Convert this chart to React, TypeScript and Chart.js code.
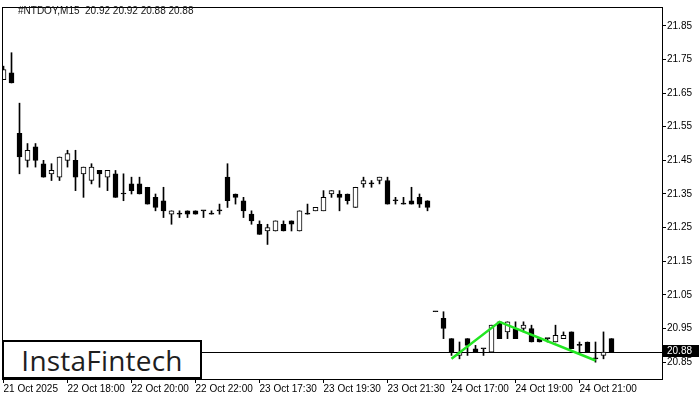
import React, { useEffect, useRef } from "react";
import { Chart, registerables } from "chart.js";

Chart.register(...registerables);

const symbolTitle = "#NTDOY,M15";

const opens = [
  21.69, 21.71, 21.53, 21.45, 21.49, 21.44, 21.41, 21.40, 21.45, 21.45,
  21.41, 21.39, 21.42, 21.40, 21.41, 21.35, 21.38, 21.38, 21.37, 21.34,
  21.33, 21.29, 21.29, 21.30, 21.30, 21.30, 21.29, 21.30, 21.40, 21.35,
  21.33, 21.29, 21.26, 21.24, 21.24, 21.26, 21.27, 21.24, 21.29, 21.30,
  21.30, 21.35, 21.35, 21.35, 21.31, 21.38, 21.38, 21.39, 21.39, 21.33,
  21.32, 21.33, 21.34, 21.33, 21.00, 20.98, 20.92, 20.87, 20.92, 20.89,
  20.89, 20.88, 20.97, 20.94, 20.95, 20.95, 20.95, 20.92, 20.92, 20.91,
  20.92, 20.94, 20.90, 20.91, 20.86, 20.87, 20.92,
];
const highs = [
  21.73, 21.77, 21.62, 21.50, 21.50, 21.45, 21.44, 21.46, 21.48, 21.48,
  21.43, 21.44, 21.42, 21.42, 21.42, 21.41, 21.40, 21.40, 21.37, 21.35,
  21.37, 21.30, 21.30, 21.30, 21.30, 21.30, 21.30, 21.32, 21.44, 21.35,
  21.34, 21.30, 21.27, 21.26, 21.27, 21.27, 21.27, 21.30, 21.32, 21.31,
  21.36, 21.36, 21.36, 21.35, 21.37, 21.40, 21.39, 21.40, 21.40, 21.34,
  21.34, 21.37, 21.35, 21.33, 21.00, 21.00, 20.92, 20.91, 20.92, 20.90,
  20.89, 20.96, 20.97, 20.97, 20.97, 20.97, 20.96, 20.92, 20.92, 20.96,
  20.94, 20.94, 20.91, 20.91, 20.91, 20.94, 20.92,
];
const lows = [
  21.69, 21.68, 21.41, 21.43, 21.43, 21.40, 21.39, 21.39, 21.43, 21.36,
  21.34, 21.38, 21.37, 21.36, 21.34, 21.33, 21.35, 21.35, 21.32, 21.30,
  21.28, 21.26, 21.28, 21.28, 21.29, 21.28, 21.29, 21.29, 21.31, 21.32,
  21.28, 21.26, 21.23, 21.20, 21.24, 21.24, 21.24, 21.24, 21.29, 21.30,
  21.30, 21.34, 21.30, 21.32, 21.31, 21.37, 21.37, 21.38, 21.32, 21.32,
  21.32, 21.32, 21.31, 21.30, 21.00, 20.92, 20.87, 20.86, 20.87, 20.88,
  20.87, 20.88, 20.92, 20.92, 20.92, 20.94, 20.91, 20.91, 20.91, 20.91,
  20.92, 20.89, 20.88, 20.88, 20.85, 20.86, 20.88,
];
const closes = [
  21.72, 21.68, 21.46, 21.48, 21.45, 21.40, 21.42, 21.46, 21.47, 21.40,
  21.43, 21.43, 21.41, 21.42, 21.34, 21.35, 21.36, 21.35, 21.32, 21.31,
  21.30, 21.30, 21.29, 21.29, 21.29, 21.30, 21.29, 21.30, 21.33, 21.34,
  21.30, 21.27, 21.23, 21.25, 21.27, 21.24, 21.26, 21.30, 21.29, 21.31,
  21.34, 21.36, 21.34, 21.33, 21.37, 21.39, 21.38, 21.40, 21.32, 21.33,
  21.32, 21.32, 21.32, 21.31, 21.00, 20.95, 20.88, 20.88, 20.90, 20.88,
  20.89, 20.96, 20.92, 20.97, 20.92, 20.96, 20.91, 20.91, 20.92, 20.93,
  20.93, 20.89, 20.90, 20.88, 20.86, 20.88, 20.88,
];

const xTickLabels = [
  "21 Oct 2025", "22 Oct 18:00", "22 Oct 20:00", "22 Oct 22:00", "23 Oct 17:30",
  "23 Oct 19:30", "23 Oct 21:30", "24 Oct 17:00", "24 Oct 19:00", "24 Oct 21:00",
];
const barsPerXTick = 8;
const yTickValues = [20.85, 20.95, 21.05, 21.15, 21.25, 21.35, 21.45, 21.55, 21.65, 21.75, 21.85];

const patternBars = [56, 62, 74];
const patternPrices = [20.86, 20.97, 20.855];

const FONT = "'Liberation Sans', Arial, sans-serif";

export default function App() {
  const canvasRef = useRef<HTMLCanvasElement | null>(null);

  useEffect(() => {
    const canvas = canvasRef.current;
    if (!canvas) return;
    const n = opens.length;
    const last = closes[n - 1];

    const bodies = opens.map((o, i) => ({ x: i, y: [Math.min(o, closes[i]), Math.max(o, closes[i])] }));
    const wicks = lows.map((l, i) => ({ x: i, y: [l, highs[i]] }));
    const bodyFill = opens.map((o, i) => (closes[i] > o ? "#ffffff" : "#000000"));
    const pattern = patternBars.map((b, i) => ({ x: b, y: patternPrices[i] }));

    const xMin = -0.1875;
    const xMax = xMin + 82.5;

    const framePlugin = {
      id: "frame",
      beforeDatasetsDraw(chart: any) {
        const { ctx, chartArea, scales } = chart;
        const y = Math.round(scales.y.getPixelForValue(last)) + 0.5;
        ctx.save();
        ctx.strokeStyle = "#000";
        ctx.lineWidth = 1;
        ctx.beginPath();
        ctx.moveTo(chartArea.left, y);
        ctx.lineTo(chartArea.right, y);
        ctx.stroke();
        ctx.restore();
      },
      afterDraw(chart: any) {
        const { ctx, chartArea, scales } = chart;
        ctx.save();
        ctx.strokeStyle = "#000";
        ctx.lineWidth = 1;
        ctx.strokeRect(chartArea.left + 0.5, chartArea.top + 0.5, chartArea.right - chartArea.left, chartArea.bottom - chartArea.top);
        const y = Math.round(scales.y.getPixelForValue(last));
        ctx.fillStyle = "#000";
        ctx.fillRect(chartArea.right + 1, y - 7, 36, 12);
        ctx.fillStyle = "#fff";
        ctx.font = `10px ${FONT}`;
        ctx.textBaseline = "middle";
        ctx.textAlign = "left";
        ctx.fillText(last.toFixed(2), chartArea.right + 5, y - 0.5);
        ctx.restore();
      },
    };

    const chart = new Chart(canvas, {
      type: "bar",
      data: {
        datasets: [
          {
            type: "line",
            data: pattern,
            borderColor: "#22e622",
            borderWidth: 2.5,
            pointRadius: 0,
            fill: false,
            order: 0,
          } as any,
          {
            type: "bar",
            data: bodies as any,
            backgroundColor: bodyFill,
            borderColor: "#000",
            borderWidth: 1,
            borderSkipped: false,
            barThickness: 5,
            minBarLength: 1,
            grouped: false,
            order: 1,
          } as any,
          {
            type: "bar",
            data: wicks as any,
            backgroundColor: "#000",
            borderWidth: 0,
            barThickness: 1,
            grouped: false,
            order: 2,
          } as any,
        ],
      },
      options: {
        animation: false,
        responsive: false,
        maintainAspectRatio: false,
        layout: { padding: { left: 2, top: 3, right: 0, bottom: 0 } },
        plugins: { legend: { display: false }, tooltip: { enabled: false }, title: { display: false } },
        scales: {
          x: {
            type: "linear",
            offset: false,
            min: xMin,
            max: xMax,
            afterBuildTicks: (s: any) => {
              s.ticks = xTickLabels.map((_, k) => ({ value: k * barsPerXTick }));
            },
            afterFit: (s: any) => {
              s.height = 21;
            },
            ticks: {
              callback: (_v: any, idx: number) => xTickLabels[idx],
              align: "start",
              autoSkip: false,
              maxRotation: 0,
              minRotation: 0,
              padding: 0,
              color: "#000",
              font: { family: FONT, size: 10 },
            },
            grid: { offset: false, drawOnChartArea: false, drawTicks: true, tickLength: 4, color: "#000" },
            border: { color: "#000" },
          },
          y: {
            type: "linear",
            position: "right",
            min: 20.8,
            max: 21.9059,
            afterBuildTicks: (s: any) => {
              s.ticks = yTickValues.map((v) => ({ value: v }));
            },
            afterFit: (s: any) => {
              s.width = 38;
            },
            ticks: {
              callback: (v: any) => Number(v).toFixed(2),
              padding: 1,
              color: "#000",
              font: { family: FONT, size: 10 },
            },
            grid: { drawOnChartArea: false, drawTicks: true, tickLength: 4, color: "#000" },
            border: { color: "#000" },
          },
        },
      },
      plugins: [framePlugin],
    } as any);

    return () => chart.destroy();
  }, []);

  const o = opens[opens.length - 1];
  const h = highs[highs.length - 1];
  const l = lows[lows.length - 1];
  const c = closes[closes.length - 1];

  return (
    <div style={{ position: "absolute", left: 0, top: 0, width: 700, height: 400, background: "#fff", overflow: "hidden" }}>
      <canvas ref={canvasRef} width={700} height={400} style={{ position: "absolute", left: 0, top: 0, width: 700, height: 400 }} />
      <div
        style={{
          position: "absolute",
          left: 18,
          top: 4,
          font: `10px ${FONT}`,
          color: "#111",
          whiteSpace: "pre",
          lineHeight: "14px",
        }}
      >
        {`${symbolTitle}  ${o.toFixed(2)} ${h.toFixed(2)} ${l.toFixed(2)} ${c.toFixed(2)}`}
      </div>
      <div
        style={{
          position: "absolute",
          left: 2,
          top: 340,
          width: 200,
          height: 39,
          boxSizing: "border-box",
          border: "2px solid #000",
          background: "#fff",
          display: "flex",
          alignItems: "center",
          justifyContent: "center",
          font: `500 28px 'Open Sans', Roboto, sans-serif`,
          color: "#1e1e1e",
          letterSpacing: "0.2px",
        }}
      >
        InstaFintech
      </div>
    </div>
  );
}
